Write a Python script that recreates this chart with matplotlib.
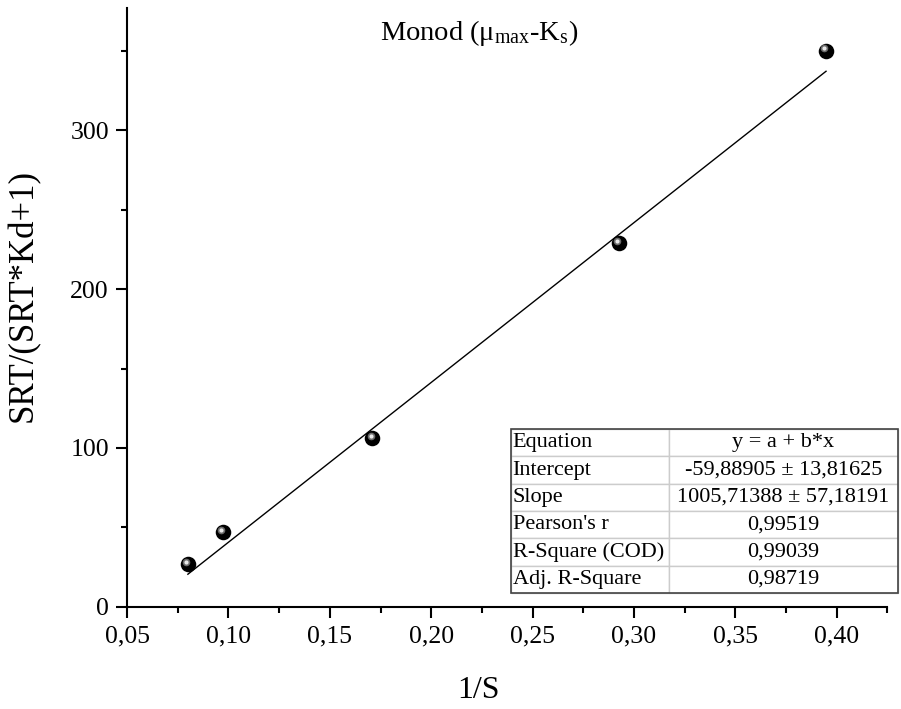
import matplotlib.pyplot as plt
from matplotlib.patches import Rectangle
from matplotlib.ticker import MultipleLocator, FuncFormatter
from matplotlib.transforms import offset_copy

plt.rcParams['font.family'] = ['Liberation Serif', 'DejaVu Serif']

# data
inv_s = [0.080, 0.0973, 0.171, 0.2926, 0.3947]
srt_ratio = [27, 47, 106, 229, 350]

# fit results from the table
intercept = -59.88905
slope = 1005.71388

table_labels = ["Equation", "Intercept", "Slope", "Pearson's r",
                "R-Square (COD)", "Adj. R-Square"]
table_values = ["y = a + b*x", "-59,88905 \u00b1 13,81625",
                "1005,71388 \u00b1 57,18191", "0,99519", "0,99039", "0,98719"]


def comma(v, pos):
    return ("%.2f" % v).replace(".", ",")


fig = plt.figure(figsize=(9.01, 7.09), dpi=100)
ax = fig.add_axes([0.141, 0.144, 0.844, 0.845])

# fitted line over the data range
xl = [min(inv_s), max(inv_s)]
ax.plot(xl, [intercept + slope * v for v in xl], color='black', lw=1.0, zorder=2)

# sphere-like markers: dark ball + offset highlight
ax.scatter(inv_s, srt_ratio, s=125, color='black', zorder=3, linewidths=0)
hl = offset_copy(ax.transData, fig=fig, x=-1.3, y=1.6, units='points')
ax.scatter(inv_s, srt_ratio, s=30, color='#6a6a6a', zorder=4, linewidths=0,
           transform=hl)
ax.scatter(inv_s, srt_ratio, s=9, color='#e8e8e8', zorder=5, linewidths=0,
           transform=hl)

ax.set_xlim(0.05, 0.425)
ax.set_ylim(0, 377)

ax.spines['top'].set_visible(False)
ax.spines['right'].set_visible(False)
ax.spines['left'].set_linewidth(1.5)
ax.spines['bottom'].set_linewidth(1.5)

ax.xaxis.set_major_locator(MultipleLocator(0.05))
ax.xaxis.set_minor_locator(MultipleLocator(0.025))
ax.yaxis.set_major_locator(MultipleLocator(100))
ax.yaxis.set_minor_locator(MultipleLocator(50))
ax.xaxis.set_major_formatter(FuncFormatter(comma))
ax.tick_params(which='major', length=8, width=1.5, labelsize=18.5,
               direction='out', pad=5)
ax.tick_params(which='minor', length=4, width=1.5, direction='out')

ax.set_xlabel("1/S", fontsize=23, va='baseline')
ax.set_ylabel("SRT/(SRT*Kd+1)", fontsize=25)
ax.xaxis.set_label_coords(0.462, -0.152)
ax.yaxis.set_label_coords(-0.114, 0.52)

ax.text(0.463, 0.958, r"Monod ($\mathregular{\mu_{max}}$-$\mathregular{K_s}$)",
        transform=ax.transAxes, ha='center', va='center', fontsize=20.5)

# statistics table
tb = ax.table(cellText=[[a, b] for a, b in zip(table_labels, table_values)],
              colWidths=[0.408, 0.592], cellLoc='center',
              bbox=[0.505, 0.023, 0.509, 0.274])
tb.auto_set_font_size(False)
for (r, c), cell in tb.get_celld().items():
    cell.set_edgecolor('#cccccc')
    cell.set_linewidth(1.0)
    cell.get_text().set_fontsize(16)
    if c == 0:
        cell.get_text().set_ha('left')
        cell.PAD = 0.01
tb.set_clip_on(False)
ax.add_patch(Rectangle((0.505, 0.023), 0.509, 0.274, transform=ax.transAxes,
                       fill=False, edgecolor='#444444', lw=1.2, clip_on=False,
                       zorder=5))

fig.savefig("out.png", dpi=100)
